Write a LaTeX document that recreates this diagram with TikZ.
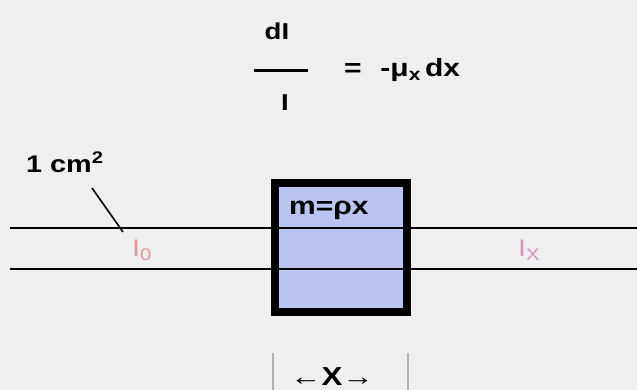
\documentclass[tikz,border=0pt]{standalone}
\usepackage{fontspec}
\setmainfont{Liberation Sans}
\newfontfamily\widefont[FakeStretch=1.2]{Liberation Sans}
\definecolor{bg}{RGB}{239,239,239}
\definecolor{slab}{RGB}{185,196,240}
\definecolor{izero}{RGB}{222,150,150}
\definecolor{ixcol}{RGB}{214,150,190}
\definecolor{tick}{RGB}{175,175,175}
\tikzset{
  beam/.style={line width=2.8pt, black},
  lbl/.style={inner sep=0pt, font=\widefont\bfseries\fontsize{24}{28}\selectfont},
  ilbl/.style={inner sep=0pt, font=\widefont\fontsize{24}{28}\selectfont},
}
\begin{document}
\begin{tikzpicture}[x=1pt,y=-1pt]
\useasboundingbox (0,0) rectangle (637,390);
\fill[bg] (0,0) rectangle (637,390);
% slab fill
\fill[slab] (275,183) rectangle (407,312);
% beam lines
\coordinate (tl) at (10,228); \coordinate (tr) at (637,228);
\coordinate (bl) at (10,269); \coordinate (br) at (637,269);
\draw[beam] (tl) -- (tr);
\draw[beam] (bl) -- (br);
% slab border
\node[draw=black, line width=8.5pt, minimum width=132pt, minimum height=129pt, inner sep=0pt] (slab) at (341,247.5) {};
\node[lbl, anchor=west, font=\widefont\bfseries\fontsize{25}{28}\selectfont] (m) at (289,210) {m=ρx};
% fraction
\node[lbl, font=\widefont\bfseries\fontsize{23}{26}\selectfont] (dI) at (277,31) {dI};
\coordinate (f1) at (254,71); \coordinate (f2) at (308,71);
\draw[line width=3pt] (f1) -- (f2);
\node[lbl, font=\widefont\bfseries\fontsize{23}{26}\selectfont] (I) at (285,103) {I};
\node[lbl, anchor=west, font=\widefont\bfseries\fontsize{25}{28}\selectfont] (eq) at (344,70) {=\hspace{0.75em}-μ\textsubscript{x}\,dx};
% 1 cm2
\node[lbl, anchor=west] (cm) at (26,162) {1 cm\textsuperscript{2}};
\coordinate (lead) at (123,232);
\draw[line width=1.6pt] (92,188) -- (lead);
% intensities
\node[ilbl, text=izero] (I0) at (142,250) {I\textsubscript{0}};
\node[ilbl, text=ixcol] (Ix) at (529,250) {I\textsubscript{X}};
% thickness marker
\coordinate (ta) at (273,353); \coordinate (tb) at (273,390);
\coordinate (tc) at (408,353); \coordinate (td) at (408,390);
\draw[tick, line width=2pt] (ta) -- (tb);
\draw[tick, line width=2pt] (tc) -- (td);
\node[lbl, font=\widefont\bfseries\fontsize{26}{28}\selectfont] (X) at (332,377) {←X→};
\end{tikzpicture}
\end{document}
